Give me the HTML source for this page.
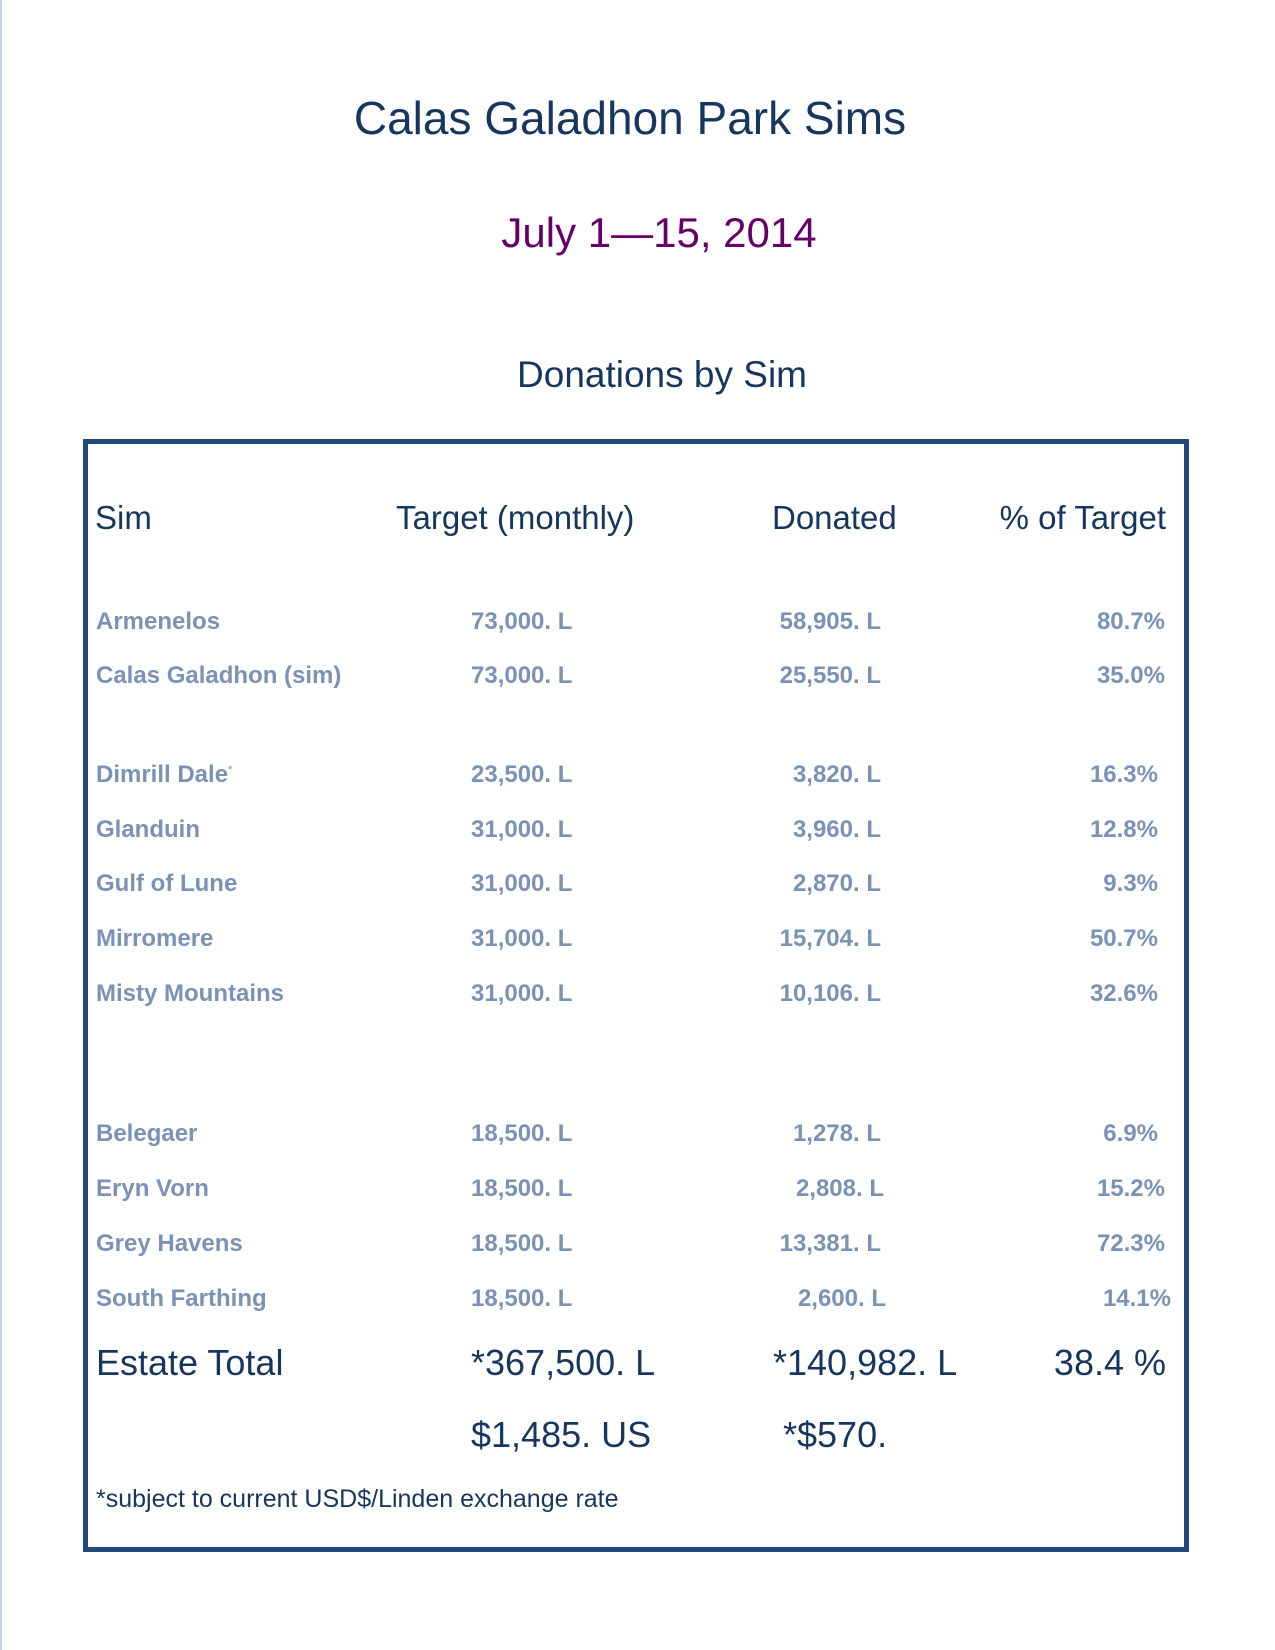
<!DOCTYPE html>
<html><head><meta charset="utf-8"><style>
body{margin:0;width:1275px;height:1650px;position:relative;background:#fff;font-family:"Liberation Sans",sans-serif;overflow:hidden}
.a{position:absolute;white-space:nowrap;line-height:1}
.c{transform:translateX(-50%)}
.r{transform:translateX(-100%)}
.h{color:#17365d;font-size:33px}
.b{color:#7a92b5;font-size:24px;font-weight:bold}
.t{color:#17365d;font-size:36px}
</style></head><body>
<div style="position:absolute;left:0;top:0;width:2px;height:1650px;background:#c5d3ea"></div>
<div class="a c" style="left:630px;top:95px;font-size:46px;color:#17365d">Calas Galadhon Park Sims</div>
<div class="a c" style="left:659px;top:212px;font-size:42px;color:#660066">July 1—15, 2014</div>
<div class="a c" style="left:662px;top:356px;font-size:37px;color:#17365d">Donations by Sim</div>
<div style="position:absolute;left:83px;top:439px;width:1096px;height:1103px;border:5px solid #234a7c"></div>
<div class="a h" style="left:95px;top:501px">Sim</div>
<div class="a h" style="left:396px;top:501px">Target (monthly)</div>
<div class="a h" style="left:772px;top:501px">Donated</div>
<div class="a h r" style="left:1166px;top:501px">% of Target</div>

<div class="a b" style="left:96px;top:610px">Armenelos</div>
<div class="a b" style="left:471px;top:610px">73,000. L</div>
<div class="a b r" style="left:881px;top:610px">58,905. L</div>
<div class="a b r" style="left:1165px;top:610px">80.7%</div>

<div class="a b" style="left:96px;top:664px">Calas Galadhon (sim)</div>
<div class="a b" style="left:471px;top:664px">73,000. L</div>
<div class="a b r" style="left:881px;top:664px">25,550. L</div>
<div class="a b r" style="left:1165px;top:664px">35.0%</div>

<div class="a b" style="left:96px;top:763px">Dimrill Dale<sup style="font-size:11px;font-weight:normal">*</sup></div>
<div class="a b" style="left:471px;top:763px">23,500. L</div>
<div class="a b r" style="left:881px;top:763px">3,820. L</div>
<div class="a b r" style="left:1158px;top:763px">16.3%</div>

<div class="a b" style="left:96px;top:818px">Glanduin</div>
<div class="a b" style="left:471px;top:818px">31,000. L</div>
<div class="a b r" style="left:881px;top:818px">3,960. L</div>
<div class="a b r" style="left:1158px;top:818px">12.8%</div>

<div class="a b" style="left:96px;top:872px">Gulf of Lune</div>
<div class="a b" style="left:471px;top:872px">31,000. L</div>
<div class="a b r" style="left:881px;top:872px">2,870. L</div>
<div class="a b r" style="left:1158px;top:872px">9.3%</div>

<div class="a b" style="left:96px;top:927px">Mirromere</div>
<div class="a b" style="left:471px;top:927px">31,000. L</div>
<div class="a b r" style="left:881px;top:927px">15,704. L</div>
<div class="a b r" style="left:1158px;top:927px">50.7%</div>

<div class="a b" style="left:96px;top:982px">Misty Mountains</div>
<div class="a b" style="left:471px;top:982px">31,000. L</div>
<div class="a b r" style="left:881px;top:982px">10,106. L</div>
<div class="a b r" style="left:1158px;top:982px">32.6%</div>

<div class="a b" style="left:96px;top:1122px">Belegaer</div>
<div class="a b" style="left:471px;top:1122px">18,500. L</div>
<div class="a b r" style="left:881px;top:1122px">1,278. L</div>
<div class="a b r" style="left:1158px;top:1122px">6.9%</div>

<div class="a b" style="left:96px;top:1177px">Eryn Vorn</div>
<div class="a b" style="left:471px;top:1177px">18,500. L</div>
<div class="a b r" style="left:884px;top:1177px">2,808. L</div>
<div class="a b r" style="left:1165px;top:1177px">15.2%</div>

<div class="a b" style="left:96px;top:1232px">Grey Havens</div>
<div class="a b" style="left:471px;top:1232px">18,500. L</div>
<div class="a b r" style="left:881px;top:1232px">13,381. L</div>
<div class="a b r" style="left:1165px;top:1232px">72.3%</div>

<div class="a b" style="left:96px;top:1287px">South Farthing</div>
<div class="a b" style="left:471px;top:1287px">18,500. L</div>
<div class="a b r" style="left:886px;top:1287px">2,600. L</div>
<div class="a b r" style="left:1171px;top:1287px">14.1%</div>

<div class="a t" style="left:96px;top:1345px">Estate Total</div>
<div class="a t" style="left:471px;top:1345px">*367,500. L</div>
<div class="a t" style="left:773px;top:1345px">*140,982. L</div>
<div class="a t r" style="left:1166px;top:1345px">38.4 %</div>
<div class="a t" style="left:471px;top:1417px">$1,485. US</div>
<div class="a t" style="left:783px;top:1417px">*$570.</div>
<div class="a" style="left:96px;top:1487px;font-size:25px;color:#17365d">*subject to current USD$/Linden exchange rate</div>
</body></html>
